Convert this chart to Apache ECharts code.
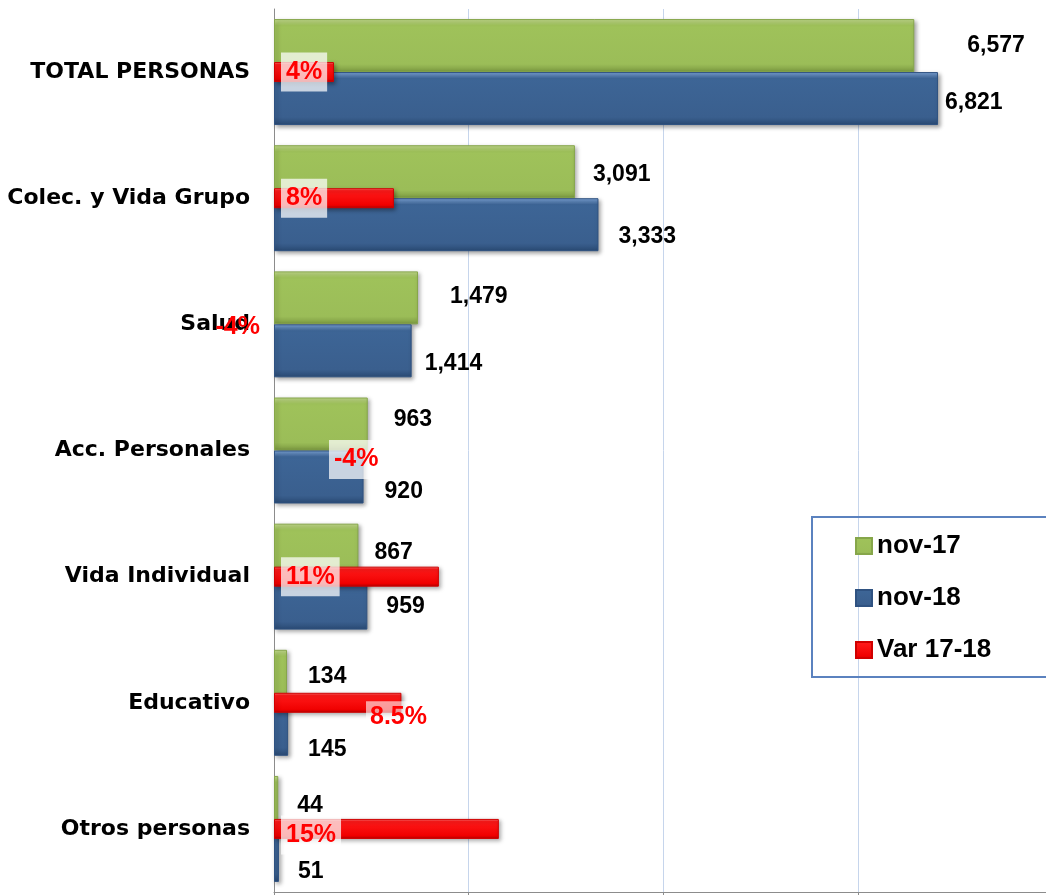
<!DOCTYPE html>
<html>
<head>
<meta charset="utf-8">
<script src="https://cdn.jsdelivr.net/npm/echarts@6/dist/echarts.min.js"></script>
<style>
  html, body { margin: 0; padding: 0; background: #fff; }
  #chart { width: 1046px; height: 895px; }
</style>
</head>
<body>
<div id="chart"></div>
<script>
const categories = ['TOTAL PERSONAS', 'Colec. y Vida Grupo', 'Salud', 'Acc. Personales', 'Vida Individual', 'Educativo', 'Otros personas'];
const nov17 = [6577, 3091, 1479, 963, 867, 134, 44];
const nov18 = [6821, 3333, 1414, 920, 959, 145, 51];
const varPct = [4, 8, -4, -4, 11, 8.5, 15];
const varText = ['4%', '8%', '-4%', '-4%', '11%', '8.5%', '15%'];

// label nudges (distance from bar end, vertical offset) to follow the original layout
const greenNudge = [[53, 0], [18, 3], [32, -1], [26, -4], [16, 3], [21, 0], [19, 3]];
const blueNudge = [[7, 4], [20, 12], [13, 13], [21, 15], [19, 4], [20, 20], [19, 16]];

const fmt = v => v.toLocaleString('en-US');

const grad = (c0, c1, c2, c3) => new echarts.graphic.LinearGradient(0, 0, 0, 1, [
  { offset: 0, color: c0 }, { offset: 0.12, color: c1 },
  { offset: 0.85, color: c2 }, { offset: 1, color: c3 }
]);

const valueLabel = {
  show: true, position: 'right', color: '#000',
  fontFamily: 'Liberation Sans, Arial, sans-serif', fontWeight: 'bold', fontSize: 23,
  formatter: p => fmt(p.value)
};

const pctFont = {
  color: '#ff0000', fontFamily: "'Liberation Sans Narrow', 'Arial Narrow', 'Liberation Sans', sans-serif",
  fontWeight: 'bold', fontSize: 25
};
const pctBox = { backgroundColor: 'rgba(255,255,255,0.72)', padding: [7, 5] };

function pctLabel(i) {
  const t = varText[i];
  if (i === 2) return Object.assign({ show: true, position: 'insideRight', distance: 14, offset: [0, 3], formatter: t }, pctFont);
  if (i === 3) return Object.assign({ show: true, position: 'right', distance: 55, offset: [0, 9], formatter: t }, pctFont, pctBox);
  if (i === 5) return Object.assign({ show: true, position: [92, 24], align: 'left', verticalAlign: 'middle', formatter: t }, pctFont,
    { backgroundColor: 'rgba(255,255,255,0.6)', padding: [3, 4] });
  const dy = i === 6 ? 16 : 10;
  return Object.assign({ show: true, position: [7, dy], align: 'left', verticalAlign: 'middle', formatter: t }, pctFont, pctBox);
}

const shadow = { shadowBlur: 4, shadowColor: 'rgba(0,0,0,0.35)', shadowOffsetX: 2, shadowOffsetY: 2 };
const hidden = { color: 'rgba(0,0,0,0)', borderColor: 'rgba(0,0,0,0)', shadowColor: 'rgba(0,0,0,0)' };

const option = {
  animation: false,
  backgroundColor: '#fff',
  grid: { left: 274, right: 0, top: 9, bottom: 3, containLabel: false },
  legend: {
    orient: 'vertical', left: 812, top: 517,
    padding: [16, 200, 14, 43],
    borderColor: '#5b82bf', borderWidth: 2,
    itemWidth: 16, itemHeight: 16, itemGap: 26,
    icon: 'rect',
    textStyle: { color: '#000', fontFamily: 'Liberation Sans, Arial, sans-serif', fontWeight: 'bold', fontSize: 26, padding: [0, 0, 0, 0] },
    data: ['nov-17', 'nov-18', 'Var 17-18']
  },
  xAxis: [
    {
      type: 'value', min: 0, max: 7930, interval: 2000,
      axisLabel: { show: false },
      axisLine: { show: true, lineStyle: { color: '#8c8c8c' } },
      axisTick: { show: true, length: 5, lineStyle: { color: '#8c8c8c' } },
      splitLine: { show: true, lineStyle: { color: '#c6d5ec', width: 1 } }
    },
    { type: 'value', min: 0, max: 51.5, show: false }
  ],
  yAxis: [
    {
      type: 'category', inverse: true, data: categories,
      axisLine: { show: true, lineStyle: { color: '#8c8c8c' } },
      axisTick: { show: false },
      axisLabel: { color: '#000', fontFamily: 'DejaVu Sans, sans-serif', fontWeight: 'bold', fontSize: 22, margin: 24 }
    },
    { type: 'category', inverse: true, data: categories, show: false }
  ],
  series: [
    {
      name: 'nov-17', type: 'bar', xAxisIndex: 0, yAxisIndex: 0,
      barCategoryGap: '16%', barGap: '0%',
      itemStyle: Object.assign({ color: grad('#c4dc8e', '#9fc25a', '#9bbd58', '#7c9a41'), borderColor: '#86a64a', borderWidth: 1 }, shadow),
      label: valueLabel,
      data: nov17.map((v, i) => ({ value: v, label: { distance: greenNudge[i][0], offset: [0, greenNudge[i][1]] } })),
      z: 2
    },
    {
      name: 'nov-18', type: 'bar', xAxisIndex: 0, yAxisIndex: 0,
      barCategoryGap: '16%', barGap: '0%',
      itemStyle: Object.assign({ color: grad('#7ea6da', '#3d6596', '#3a5f8e', '#2a4a74'), borderColor: '#2f5281', borderWidth: 1 }, shadow),
      label: valueLabel,
      data: nov18.map((v, i) => ({ value: v, label: { distance: blueNudge[i][0], offset: [0, blueNudge[i][1]] } })),
      z: 2
    },
    {
      name: 'Var 17-18', type: 'bar', xAxisIndex: 1, yAxisIndex: 1,
      barWidth: 20, clip: false,
      itemStyle: Object.assign({ color: grad('#ff8080', '#ff1a1a', '#f00000', '#b00000'), borderColor: '#d00000', borderWidth: 1 }, shadow),
      data: varPct.map((v, i) => ({
        value: v,
        itemStyle: v < 0 ? hidden : undefined,
        label: pctLabel(i)
      })),
      z: 5
    }
  ]
};

const chart = echarts.init(document.getElementById('chart'), null, { renderer: 'canvas' });
chart.setOption(option);
</script>
</body>
</html>
